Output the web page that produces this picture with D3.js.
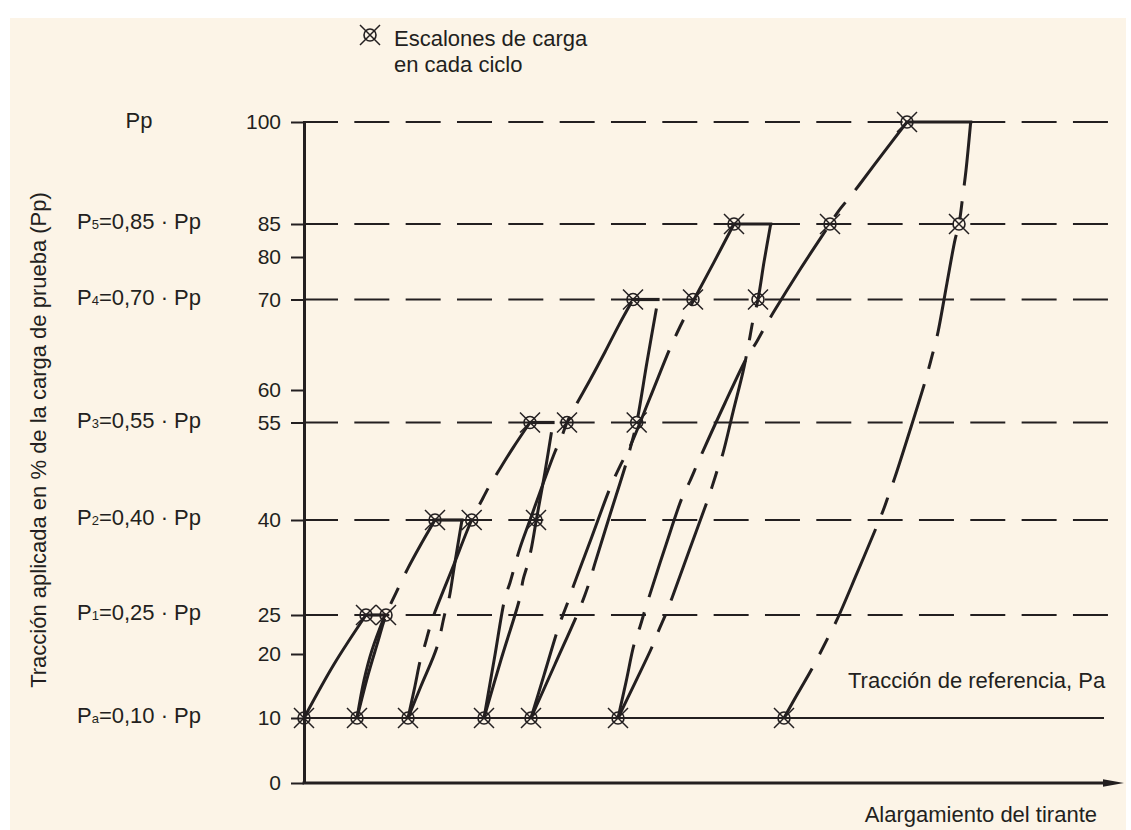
<!DOCTYPE html>
<html lang="es">
<head>
<meta charset="UTF-8">
<title>Ciclos de carga del tirante</title>
<script src="https://d3js.org/d3.v7.min.js"></script>
<style>
  body { margin: 0; background: #ffffff; }
  #chart text { font-family: "Liberation Sans", Arial, sans-serif; fill: #231f20; }
</style>
</head>
<body>
<div id="chart"></div>

<script>

// ---- data ----
// vertical axis: load in % of the proof load Pp
var tickValues = [0, 10, 20, 25, 40, 55, 60, 70, 80, 85, 100];
var levelValues = [10, 25, 40, 55, 70, 85];
var levelNames = ["a", "1", "2", "3", "4", "5"];
var levelFactors = ["0,10", "0,25", "0,40", "0,55", "0,70", "0,85"];
var dashedLevels = [25, 40, 55, 70, 85, 100];
var referenceLevel = 10;

// load holds at the top of each cycle: level, start and end elongation
var holdLevels = [25, 40, 55, 70, 85, 100];
var holdStart = [62, 131, 226, 329, 430, 603];
var holdEnd = [81, 158, 249, 354, 466.7, 666.7];

// load steps (elongation, load %)
var stepX = [0, 53, 104, 180, 227, 314, 480, 62, 82, 131, 167.7, 232, 226, 263, 332.7, 329, 389, 454, 430, 526, 655, 603];
var stepY = [10, 10, 10, 10, 10, 10, 10, 25, 25, 40, 40, 40, 55, 55, 55, 70, 70, 70, 85, 85, 85, 100];

// load / unload curves, listed from the Pa end upwards: [elongation, load %]
var load1 = [[0,10],[30,18.4],[62,25]];
var unload1 = [[53,10],[60,15.9],[68,20.5],[81,25]];
var reload2 = [[53,10],[64,16.7],[73,21.2],[82,25],[92,28.5],[104,32.4],[116,35.9],[131,40]];
var unload2 = [[104,10],[117,15],[133,20.9],[140.5,25],[145.3,27.8],[150,32.4],[158,40]];
var reload3 = [[104,10],[111,15],[116,18.8],[121,21.2],[126,23.5],[131,25.5],[148.7,32.5],[167.7,40],[177,42.8],[186,45.4],[194,47.4],[209,51.1],[226,55]];
var unload3 = [[180,10],[197,19.1],[216,27.8],[219,30.5],[224,33.2],[227.7,35.8],[232.3,40],[241,47.4],[249,55]];
var reload4 = [[180,10],[190.5,19.4],[201,27.7],[206,30.1],[211,32.9],[216,35.6],[226,40],[251,50.5],[257.7,52.8],[263,55],[271,57.4],[286,61.1],[301,64.2],[315,67.2],[329,70]];
var unload4 = [[227,10],[251,18.4],[274.3,25.5],[281,28.2],[286,30.5],[291,33.2],[306,40.8],[321.7,48.5],[326,50.9],[332.7,55],[343,63.1],[354,70]];
var reload5 = [[227,10],[240,16.7],[252.7,22.7],[257.7,24.6],[264,27.1],[269,29.4],[287.5,37.2],[306,44.9],[316,48.3],[326,51.3],[346,58.8],[366,64.6],[373,66.3],[381,68.1],[390,70],[410,78.8],[430,85]];
var unload5 = [[314,10],[331,15.5],[348,20.9],[354,22.8],[363,25.6],[368,27.7],[385.5,35.3],[403,42.8],[408,45.1],[414,48],[419,50.3],[429,56.6],[439,62],[442,63.6],[446,65.9],[449,67.7],[454,70],[460,78.8],[466.7,85]];
var reload6 = [[314,10],[322,15.6],[330,21.2],[336,23.5],[341,25.8],[346,28.3],[362,36.1],[378,43.4],[386,46],[393,48.5],[399,50.6],[421,58],[442,63.4],[453,65.4],[461,67],[469,68.5],[497,77.4],[526,85],[534,86.8],[546,89],[555,90.7],[579,95.4],[603,100]];
var unload6 = [[480,10],[494,13.9],[509,18],[524,22.1],[533,24.4],[553,31.6],[573,39.1],[580,41.8],[585,44],[591,46.6],[606,53.8],[621,60.9],[626,62.9],[630,64.6],[634,66.4],[643,73.9],[651,82.6],[655,85],[658.7,89],[662,92.9],[666.7,100]];

var curves = [load1, unload1, reload2, unload2, reload3, unload3, reload4, unload4, reload5, unload5, reload6, unload6];

// ---- layout ----
var width = 1131, height = 830;
var ink = "#231f20";
// the drawing's load scale is schematic, so each tick gets its own place
var yStops = [783, 718, 654, 615, 520, 422.5, 390, 299.5, 257, 224, 122];
// long dash length and offset of each curve's chain line (null = solid)
var curveDash = [null, null, [103, 0], [103, 26], [103, 46], [122, 0], [115, 0], [110, 0], [103, 16], [103, 24], [103, 28], [103, 46]];

var svg = d3.select("#chart")
  .append("svg")
    .attr("width", width)
    .attr("height", height);

// cream panel
svg.append("rect")
  .attr("x", 10).attr("y", 18)
  .attr("width", 1116).attr("height", 812)
  .attr("fill", "#fcf4e7");

var x = d3.scaleLinear().domain([0, 800]).range([304, 1104]);
var y = d3.scaleLinear().domain(tickValues).range(yStops);

// dashed levels and the reference line
svg.append("g")
  .selectAll("line")
  .data(dashedLevels)
  .enter()
  .append("line")
    .attr("x1", 303).attr("x2", 1108)
    .attr("y1", function(d) { return y(d); })
    .attr("y2", function(d) { return y(d); })
    .attr("stroke", ink)
    .attr("stroke-width", 1.8)
    .attr("stroke-dasharray", "35,16.33");

svg.append("line")
  .attr("x1", x(0)).attr("x2", 1104)
  .attr("y1", y(referenceLevel)).attr("y2", y(referenceLevel))
  .attr("stroke", ink)
  .attr("stroke-width", 1.8);

// Y axis
var yAxis = svg.append("g")
  .attr("transform", "translate(" + x(0) + ",0)")
  .call(d3.axisLeft(y).tickValues(tickValues).tickSize(13).tickSizeOuter(0).tickPadding(10));
yAxis.select(".domain").attr("stroke", ink).attr("stroke-width", 3);
yAxis.selectAll(".tick line").attr("stroke", ink).attr("stroke-width", 2);
yAxis.selectAll(".tick text")
  .attr("font-family", "Liberation Sans, Arial, sans-serif")
  .attr("font-size", 21)
  .attr("fill", ink);

// X axis with arrow
svg.append("line")
  .attr("x1", x(0) - 1.5).attr("x2", 1108)
  .attr("y1", y(0)).attr("y2", y(0))
  .attr("stroke", ink)
  .attr("stroke-width", 3);
svg.append("path")
  .attr("d", "M1103," + (y(0) - 3.8) + " L1124," + y(0) + " L1103," + (y(0) + 3.8) + " Z")
  .attr("fill", ink);

// load holds
svg.append("g")
  .selectAll("line")
  .data(holdLevels)
  .enter()
  .append("line")
    .attr("x1", function(d, i) { return x(holdStart[i]); })
    .attr("x2", function(d, i) { return x(holdEnd[i]); })
    .attr("y1", function(d) { return y(d); })
    .attr("y2", function(d) { return y(d); })
    .attr("stroke", ink)
    .attr("stroke-width", 3.2)
    .attr("stroke-linecap", "square");

// curves
var line = d3.line()
  .x(function(d) { return x(d[0]); })
  .y(function(d) { return y(d[1]); })
  .curve(d3.curveCatmullRom.alpha(0.5));

svg.append("g")
  .selectAll("path")
  .data(curves)
  .enter()
  .append("path")
    .attr("d", line)
    .attr("fill", "none")
    .attr("stroke", ink)
    .attr("stroke-width", 3)
    .attr("stroke-dasharray", function(d, i) {
      var s = curveDash[i];
      return s ? s[0] + ",16,18,16" : null;
    })
    .attr("stroke-dashoffset", function(d, i) {
      var s = curveDash[i];
      return s ? s[1] : null;
    });

// step marker: circle crossed by an X
function marker(g) {
  g.append("circle")
    .attr("r", 6)
    .attr("fill", "none")
    .attr("stroke", ink)
    .attr("stroke-width", 1.6);
  g.append("path")
    .attr("d", "M-10,-10L10,10M-10,10L10,-10")
    .attr("stroke", ink)
    .attr("stroke-width", 1.5);
}

svg.append("g")
  .selectAll("g")
  .data(stepX)
  .enter()
  .append("g")
    .attr("transform", function(d, i) { return "translate(" + x(d) + "," + y(stepY[i]) + ")"; })
    .each(function() { marker(d3.select(this)); });

// legend
var legend = svg.append("g").attr("transform", "translate(370,35)");
marker(legend);
svg.append("text").attr("x", 394).attr("y", 46).attr("font-size", 22).text("Escalones de carga");
svg.append("text").attr("x", 394).attr("y", 72).attr("font-size", 22).text("en cada ciclo");

// level names on the left
svg.append("text")
  .attr("x", 139).attr("y", y(100) + 6)
  .attr("text-anchor", "middle")
  .attr("font-size", 22)
  .text("Pp");

var names = svg.append("g")
  .selectAll("text")
  .data(levelValues)
  .enter()
  .append("text")
    .attr("x", 139)
    .attr("y", function(d) { return y(d) + 5; })
    .attr("text-anchor", "middle")
    .attr("font-size", 22);
names.append("tspan").text("P");
names.append("tspan").attr("font-size", 13).text(function(d, i) { return levelNames[i]; });
names.append("tspan").text(function(d, i) { return "=" + levelFactors[i] + " \u00b7 Pp"; });

// axis titles
svg.append("text")
  .attr("transform", "translate(46,440) rotate(-90)")
  .attr("text-anchor", "middle")
  .attr("font-size", 22)
  .text("Tracción aplicada en % de la carga de prueba (Pp)");

svg.append("text")
  .attr("x", 1097).attr("y", 822)
  .attr("text-anchor", "end")
  .attr("font-size", 22)
  .text("Alargamiento del tirante");

svg.append("text")
  .attr("x", 848).attr("y", 688)
  .attr("font-size", 22)
  .text("Tracción de referencia, Pa");

</script>
</body>
</html>
